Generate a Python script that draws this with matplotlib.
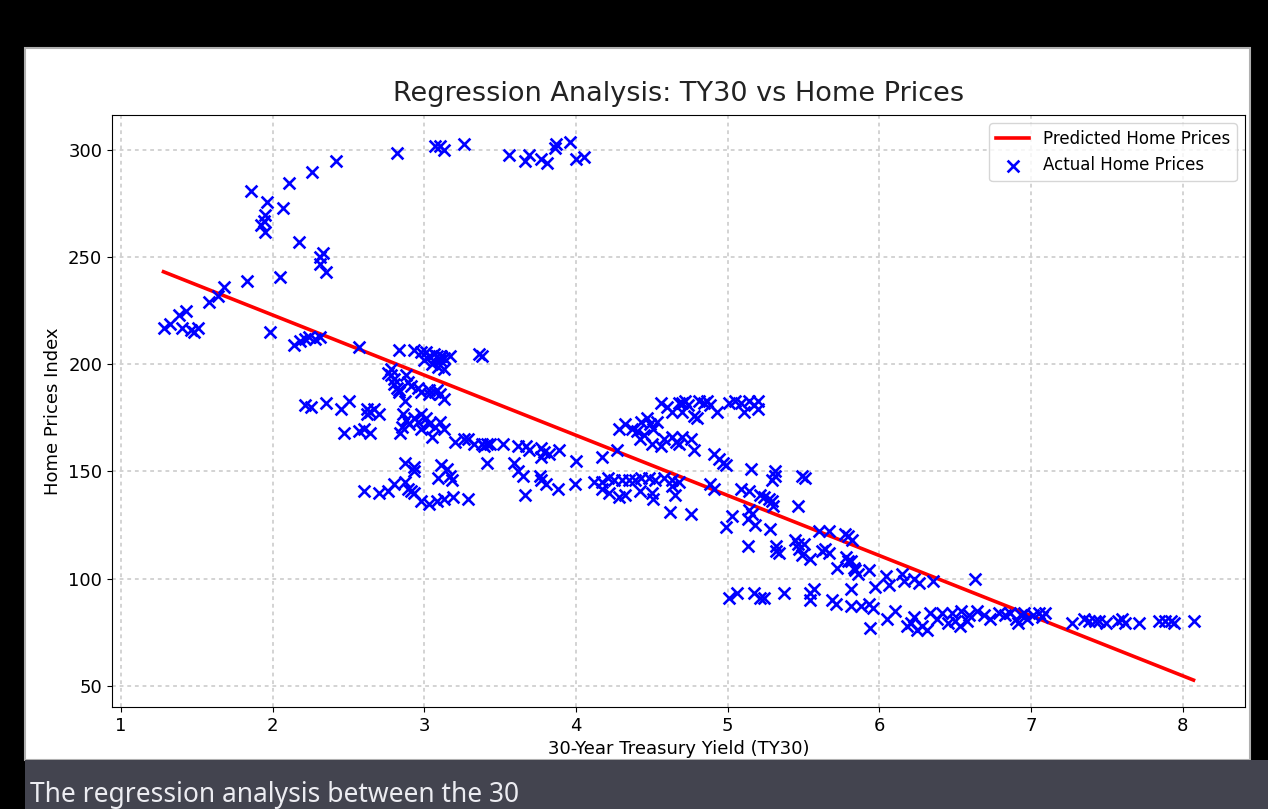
import numpy as np
import matplotlib.pyplot as plt
from matplotlib.patches import Rectangle

# --- data (TY30 in %, home price index) ---
# low-yield cluster and the climb to the 2022 peak
arc_x = [1.28, 1.32, 1.38, 1.43, 1.40, 1.46, 1.51, 1.48, 1.58, 1.64, 1.68, 1.83, 1.98, 2.05,
         1.86, 1.96, 2.11, 2.26, 2.42, 1.95, 1.94, 1.92, 1.95, 2.07, 2.17, 2.33, 2.31, 2.31, 2.35]
arc_y = [217, 219, 223, 225, 217, 216, 217, 215, 229, 232, 236, 239, 215, 241,
         281, 276, 285, 290, 295, 270, 267, 265, 262, 273, 257, 252, 250, 247, 243]

top_x = [2.82, 3.07, 3.10, 3.13, 3.26, 3.56, 3.66, 3.69, 3.77, 3.81, 3.86, 3.87, 3.96, 4.00, 4.05]
top_y = [299, 302, 302, 300, 303, 298, 295, 298, 296, 294, 301, 303, 304, 296, 297]

# 2.1 - 3.4 band
mid_x = [2.14, 2.18, 2.21, 2.24, 2.28, 2.31, 2.57, 2.83,
         2.93, 2.98, 3.01, 3.03, 3.06, 3.08, 3.10, 3.13, 3.17, 3.00, 3.05, 3.09, 3.13, 3.11, 3.36, 3.38,
         2.76, 2.78, 2.80, 2.80, 2.82, 2.83, 2.78, 2.88, 2.89, 2.91, 2.96, 2.98, 3.03, 3.07, 3.10, 3.13,
         2.87, 2.83, 3.03, 3.08,
         2.21, 2.25, 2.35, 2.45, 2.50, 2.62, 2.64, 2.67, 2.70, 2.62,
         2.47, 2.57, 2.60, 2.64,
         2.86, 2.88, 2.85, 2.84, 2.93, 2.96, 2.98, 3.01, 3.03, 3.07, 3.10, 3.13, 3.05, 2.98, 2.90]
mid_y = [209, 211, 212, 213, 212, 213, 208, 207,
         207, 206, 206, 204, 205, 204, 202, 203, 204, 202, 200, 199, 198, 204, 205, 204,
         196, 195, 193, 191, 189, 188, 198, 195, 192, 190, 189, 187, 186, 187, 186, 184,
         183, 187, 188, 188,
         181, 180, 182, 179, 183, 179, 178, 179, 177, 177,
         168, 169, 170, 168,
         177, 174, 171, 168, 175, 173, 177, 175, 172, 171, 173, 170, 166, 170, 172]

# 2.6 - 4.0 lower band
low_x = [3.20, 3.26, 3.29, 3.33, 3.38, 3.41, 3.43, 3.39,
         3.52, 3.62, 3.67, 3.69, 3.77, 3.79, 3.77, 3.82, 3.89, 4.00,
         3.41, 3.59, 3.62, 3.65, 3.66, 3.76, 3.77, 3.80, 3.88, 3.99,
         2.87, 2.93, 2.93, 3.11, 3.15, 3.17, 3.09, 3.18,
         2.60, 2.70, 2.76, 2.80, 2.87, 2.89, 2.91, 2.93,
         2.98, 3.03, 3.08, 3.13, 3.19, 3.29]
low_y = [164, 165, 165, 163, 163, 163, 163, 162,
         163, 162, 162, 160, 161, 159, 157, 158, 160, 155,
         154, 154, 150, 148, 139, 148, 146, 144, 142, 144,
         154, 152, 150, 153, 151, 148, 147, 146,
         141, 140, 141, 144, 145, 142, 141, 140,
         136, 135, 136, 137, 138, 137]

# 4.1 - 5.3 (2006 peak region)
peak_x = [4.56, 4.60, 4.63, 4.68, 4.70, 4.72, 4.74, 4.70, 4.78, 4.81, 4.84, 4.86, 4.88, 4.93,
          5.01, 5.05, 5.09, 5.14, 5.17, 5.20, 5.11, 5.20, 4.80,
          4.28, 4.32, 4.37, 4.40, 4.43, 4.47, 4.49, 4.51, 4.53, 4.45, 4.42, 4.50, 4.56, 4.58,
          4.63, 4.66, 4.70, 4.76, 4.78, 4.68, 4.17, 4.27, 4.91, 4.94, 4.97, 4.99]
peak_y = [182, 180, 178, 182, 182, 183, 181, 178, 176, 183, 182, 183, 181, 178,
          182, 183, 182, 183, 181, 183, 178, 179, 175,
          170, 172, 170, 169, 173, 175, 172, 170, 173, 167, 165, 163, 162, 165,
          166, 164, 166, 165, 160, 163, 157, 160, 158, 156, 154, 153]

row_x = [4.12, 4.17, 4.21, 4.25, 4.30, 4.35, 4.39, 4.43, 4.48, 4.52, 4.58, 4.63, 4.68,
         4.17, 4.22, 4.28, 4.32, 4.42, 4.50, 4.51, 4.63, 4.65,
         4.62, 4.76, 4.88, 4.91, 5.15, 5.31]
row_y = [145, 145, 147, 146, 146, 146, 146, 147, 147, 146, 147, 146, 145,
         142, 140, 138, 139, 141, 140, 137, 143, 139,
         131, 130, 144, 142, 151, 150]

# 5.0 - 6.0 descent
desc_x = [5.29, 5.31, 5.49, 5.51, 5.09, 5.14, 5.21, 5.24, 5.29, 5.30, 5.27, 5.46,
          5.03, 4.99, 5.14, 5.13, 5.16, 5.18, 5.28, 5.13, 5.32, 5.34, 5.32, 5.44,
          5.47, 5.49, 5.46, 5.50, 5.54, 5.60, 5.67, 5.77, 5.82, 5.79, 5.62, 5.67,
          5.64, 5.72, 5.78, 5.81, 5.84, 5.86, 5.79, 5.83, 5.93]
desc_y = [146, 148, 148, 147, 142, 141, 139, 138, 136, 134, 137, 134,
          129, 124, 132, 128, 130, 125, 123, 115, 115, 112, 113, 118,
          114, 111, 116, 116, 109, 122, 122, 121, 118, 120, 113, 112,
          114, 105, 110, 108, 104, 102, 108, 105, 104]

# 5.0 - 8.1 (1990s lows)
tail_x = [5.01, 5.06, 5.17, 5.21, 5.24, 5.37, 5.54, 5.57, 5.54, 5.69, 5.71, 5.81, 5.81,
          5.88, 5.93, 5.96, 5.94, 5.97, 6.04, 6.06, 6.10, 6.05, 6.15, 6.16, 6.23, 6.26,
          6.35, 6.21, 6.23, 6.28, 6.33, 6.38, 6.48, 6.50, 6.54, 6.59, 6.63, 6.69, 6.73,
          6.79, 6.86, 6.90, 6.18, 6.31, 6.25, 6.41, 6.45, 6.53, 6.58, 6.64,
          6.95, 6.97, 7.01, 7.05, 7.09, 7.07, 6.83, 6.91, 6.93,
          7.27, 7.35, 7.38, 7.42, 7.45, 7.49, 7.57, 7.60, 7.62, 7.71, 7.84, 7.88,
          7.92, 7.94, 8.07]
tail_y = [91, 93, 93, 91, 91, 93, 93, 95, 90, 90, 88, 95, 87,
          87, 88, 86, 77, 96, 101, 97, 85, 81, 102, 99, 100, 98,
          99, 79, 82, 78, 84, 81, 84, 80, 85, 83, 100, 83, 81,
          84, 84, 81, 78, 76, 76, 84, 79, 78, 80, 85,
          84, 81, 83, 84, 84, 82, 83, 79, 83,
          79, 81, 80, 80, 80, 79, 80, 81, 79, 79, 80, 80,
          80, 79, 80]

# fitted line
intercept = 279.3
slope = -28.1

ty30 = np.array(arc_x + top_x + mid_x + low_x + peak_x + row_x + desc_x + tail_x)
prices = np.array(arc_y + top_y + mid_y + low_y + peak_y + row_y + desc_y + tail_y)

W, H = 1268, 809
fig = plt.figure(figsize=(W / 100, H / 100), dpi=100, facecolor='black')

# white card and the dark strip under it
fig.add_artist(Rectangle((25 / W, 1 - 760 / H), 1225 / W, 712 / H, transform=fig.transFigure,
                         facecolor='white', edgecolor='#b0b0b0', linewidth=1.5, zorder=0))
fig.add_artist(Rectangle((25 / W, 0), 1243 / W, 1 - 760 / H, transform=fig.transFigure,
                         facecolor='#43444f', edgecolor='none', zorder=0))
fig.text(30 / W, 1 - 802 / H, 'The regression analysis between the 30',
         color='#ececf1', fontsize=19, family='Noto Sans', va='baseline')

ax = fig.add_axes([112 / W, 1 - 707 / H, 1133 / W, 592 / H])
xs = np.array([ty30.min(), ty30.max()])
ax.plot(xs, intercept + slope * xs, color='red', linewidth=2.6, label='Predicted Home Prices')
ax.scatter(ty30, prices, marker='x', color='blue', s=72, linewidths=1.9,
           label='Actual Home Prices', zorder=3)

ax.set_title('Regression Analysis: TY30 vs Home Prices', fontsize=19.5, pad=10, color='#222222')
ax.set_xlabel('30-Year Treasury Yield (TY30)', fontsize=13)
ax.set_ylabel('Home Prices Index', fontsize=13)
ax.tick_params(labelsize=13)
ax.set_yticks([50, 100, 150, 200, 250, 300])
ax.grid(True, linestyle=(0, (2.5, 2.5)), color='#c8c8c8', linewidth=1.1)
ax.legend(loc='upper right', fontsize=12)

fig.savefig('out.png', dpi=100, facecolor=fig.get_facecolor())
